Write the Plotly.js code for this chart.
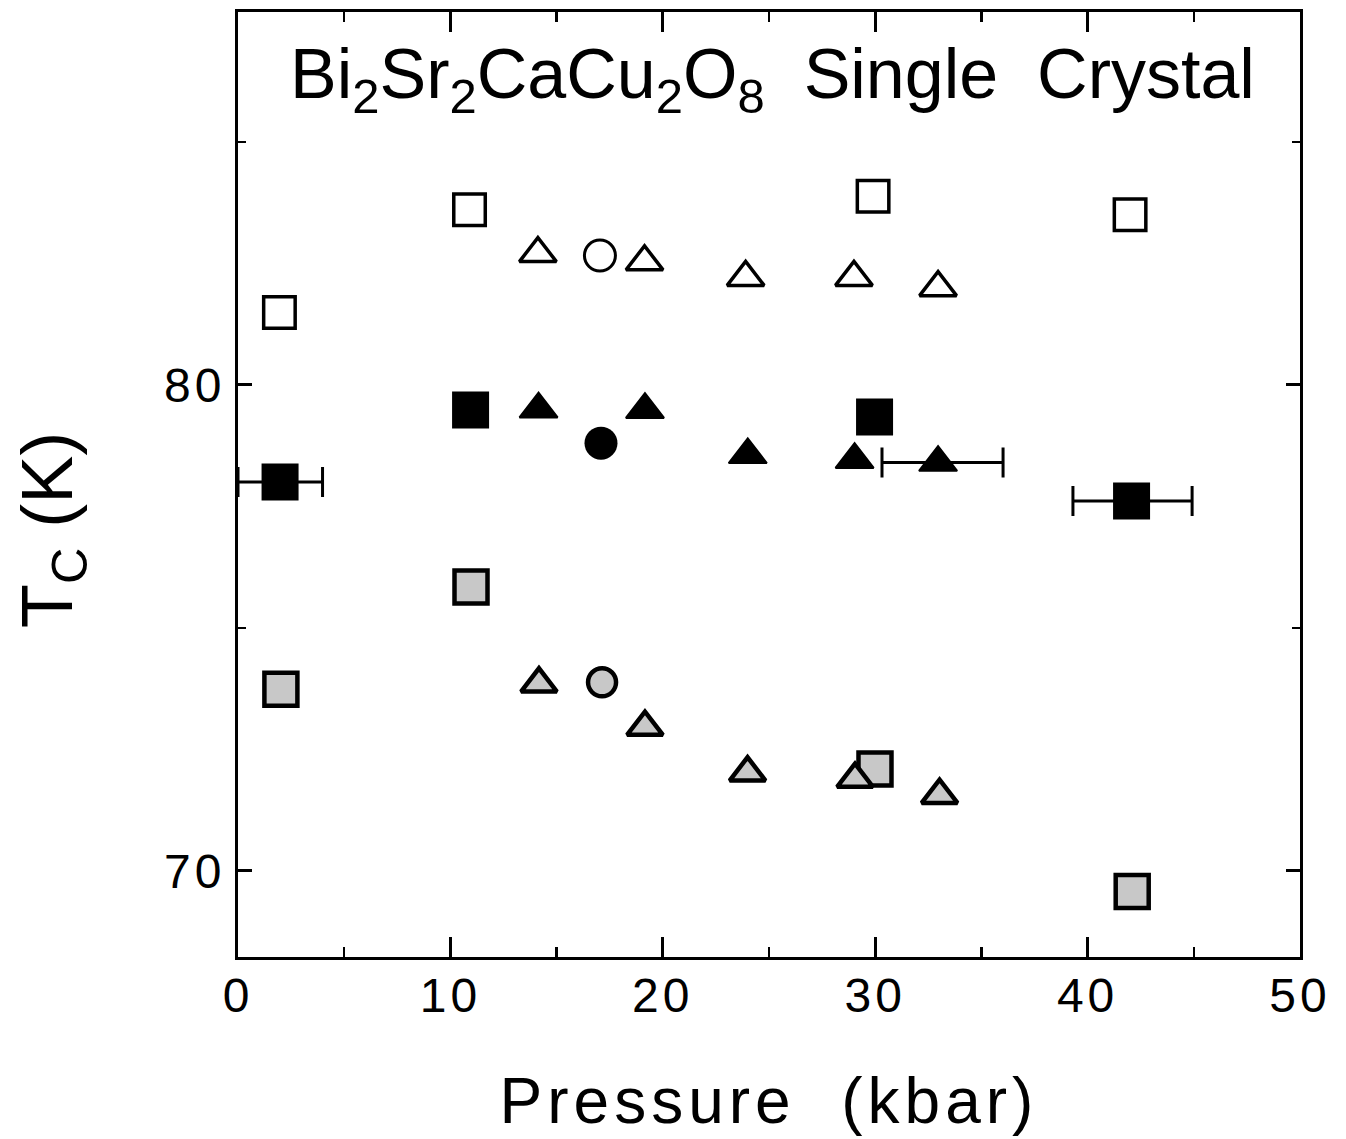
<!DOCTYPE html>
<html><head><meta charset="utf-8">
<script src="https://cdn.plot.ly/plotly-3.0.1.min.js"></script>
<style>
html,body{margin:0;padding:0;background:#fff;}
#chart{width:1346px;height:1139px;}
.xtick text, .ytick text { letter-spacing: 4px; }
.xtitle { letter-spacing: 5px; }
</style></head><body><div id="chart"></div>
<script>
// Pressure (kbar) and Tc (K)
const openSquareP = [1.95, 10.9, 29.9, 42.0];
const openSquareT = [81.49, 83.6, 83.88, 83.5];
const openTriP = [14.12, 19.14, 23.9, 29.0, 32.96];
const openTriT = [82.70, 82.53, 82.21, 82.21, 82.0];
const openCircP = [17.04];
const openCircT = [82.66];

const filledSquareP = [1.98, 10.95, 29.97, 42.07];
const filledSquareT = [78.0, 79.48, 79.34, 77.61];
const filledSquareErrPlus = [2.0, null, null, 2.85];
const filledSquareErrMinus = [1.98, null, null, 2.76];
const filledTriP = [14.15, 19.16, 24.0, 29.03, 32.96];
const filledTriT = [79.50, 79.49, 78.56, 78.46, 78.40];
const filledTriErrPlus = [null, null, null, null, 3.06];
const filledTriErrMinus = [null, null, null, null, 2.64];
const filledCircP = [17.09];
const filledCircT = [78.80];

const greySquareP = [2.02, 10.97, 29.99, 42.1];
const greySquareT = [73.74, 75.84, 72.10, 69.58];
const greyTriP = [14.17, 19.16, 23.99, 29.05, 33.03];
const greyTriT = [73.85, 72.96, 72.02, 71.89, 71.56];
const greyCircP = [17.14];
const greyCircT = [73.88];

const xTickVals = [0, 10, 20, 30, 40, 50];
const xTickText = ['0', '10', '20', '30', '40', '50'];
const yTickVals = [70, 80];
const yTickText = ['70', '80'];

const GREY = '#c8c8c8';

function pts(P, T, marker) {
  return {x: P, y: T, mode: 'markers', type: 'scatter', marker: marker};
}
// split a series into points without and with horizontal error bars
function withErr(P, T, plus, minus, marker) {
  const idxNo = [], idxYes = [];
  P.forEach((_, i) => (plus[i] == null ? idxNo : idxYes).push(i));
  const plain = pts(idxNo.map(i => P[i]), idxNo.map(i => T[i]), marker);
  const errd = pts(idxYes.map(i => P[i]), idxYes.map(i => T[i]), marker);
  errd.error_x = {type: 'data', symmetric: false,
    array: idxYes.map(i => plus[i]), arrayminus: idxYes.map(i => minus[i]),
    color: 'black', thickness: 3, width: 15, visible: true};
  return [errd, plain];
}

const mOpenSq = {symbol: 'square', size: 31.5, color: 'white', line: {color: 'black', width: 3.5}};
const mOpenTri = {symbol: 'triangle-up', size: 32, color: 'white', line: {color: 'black', width: 3.5}};
const mOpenCirc = {symbol: 'circle', size: 31, color: 'white', line: {color: 'black', width: 3}};
const mFillSq = {symbol: 'square', size: 35, color: 'black', line: {color: 'black', width: 2}};
const mFillTri = {symbol: 'triangle-up', size: 33, color: 'black', line: {color: 'black', width: 2}};
const mFillCirc = {symbol: 'circle', size: 33, color: 'black', line: {color: 'black', width: 0}};
const mGreySq = {symbol: 'square', size: 33, color: GREY, line: {color: 'black', width: 4.5}};
const mGreyTri = {symbol: 'triangle-up', size: 31, color: GREY, line: {color: 'black', width: 4.5}};
const mGreyCirc = {symbol: 'circle', size: 28, color: GREY, line: {color: 'black', width: 4.5}};

const traces = [
  pts(openSquareP, openSquareT, mOpenSq),
  pts(openTriP, openTriT, mOpenTri),
  pts(openCircP, openCircT, mOpenCirc),
  ...withErr(filledSquareP, filledSquareT, filledSquareErrPlus, filledSquareErrMinus, mFillSq),
  ...withErr(filledTriP, filledTriT, filledTriErrPlus, filledTriErrMinus, mFillTri),
  pts(filledCircP, filledCircT, mFillCirc),
  pts(greySquareP, greySquareT, mGreySq),
  pts(greyTriP, greyTriT, mGreyTri),
  pts(greyCircP, greyCircT, mGreyCirc)
];

const layout = {
  width: 1346, height: 1139,
  margin: {l: 238, r: 46, t: 12, b: 182},
  paper_bgcolor: 'white', plot_bgcolor: 'white',
  showlegend: false,
  font: {family: '"Liberation Sans", Arial, Helvetica, sans-serif', color: 'black'},
  xaxis: {
    range: [0, 50], tickmode: 'array', tickvals: xTickVals, ticktext: xTickText,
    ticks: 'inside', ticklen: 20, tickwidth: 3, tickcolor: 'black', ticklabelstandoff: -6,
    showline: true, linewidth: 3, linecolor: 'black', mirror: 'ticks',
    showgrid: false, zeroline: false, tickfont: {size: 48},
    minor: {dtick: 5, tick0: 0, ticks: 'inside', ticklen: 10, tickwidth: 2.5, tickcolor: 'black', showgrid: false},
    title: {text: 'Pressure\u00a0\u00a0(kbar)', font: {size: 64}, standoff: 58}
  },
  yaxis: {
    range: [68.23, 87.67], tickmode: 'array', tickvals: yTickVals, ticktext: yTickText,
    ticks: 'inside', ticklen: 14, tickwidth: 3, tickcolor: 'black',
    showline: true, linewidth: 3, linecolor: 'black', mirror: 'ticks',
    showgrid: false, zeroline: false, tickfont: {size: 48},
    minor: {dtick: 5, tick0: 0, ticks: 'inside', ticklen: 8, tickwidth: 2.5, tickcolor: 'black', showgrid: false}
  },
  annotations: [
    {
      text: 'Bi<sub>2</sub>Sr<sub>2</sub>CaCu<sub>2</sub>O<sub>8</sub>\u00a0\u00a0Single\u00a0\u00a0Crystal',
      xref: 'paper', yref: 'paper', x: 0.503, y: 0.929, xanchor: 'center', yanchor: 'middle',
      showarrow: false, font: {size: 70}
    },
    {
      text: 'T<sub>C</sub> (K)',
      xref: 'paper', yref: 'paper', x: -0.174, y: 0.452, xanchor: 'center', yanchor: 'middle',
      textangle: -90, showarrow: false, font: {size: 72}
    }
  ]
};

Plotly.newPlot('chart', traces, layout, {displayModeBar: false, staticPlot: true});
</script></body></html>
